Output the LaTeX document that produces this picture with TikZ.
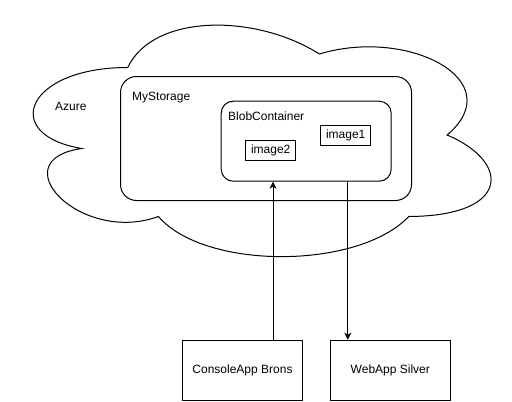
\documentclass[tikz,border=0pt]{standalone}
\usepackage{fontspec}
\setmainfont{Liberation Sans}
\usetikzlibrary{arrows.meta,calc}
\begin{document}
\begin{tikzpicture}[x=1pt,y=-1pt,
  lw/.style={line width=1pt},
  txt/.style={font=\fontsize{12}{14}\selectfont, inner sep=0pt},
  box/.style={draw, lw, txt},
  conn/.style={lw, -{Stealth[length=7pt,width=7pt,inset=2pt]}}]
\useasboundingbox (0,0) rectangle (512,402);
% cloud
\draw[lw] (127.75,67.5)
  .. controls (25.5,67.5) and (0,135) .. (81.8,148.5)
  .. controls (0,160) and (80,245) .. (158.4,216.5)
  .. controls (204.4,270) and (357.7,270) .. (408.8,216.5)
  .. controls (511,216) and (511,162) .. (447.1,135)
  .. controls (511,81) and (408.8,27) .. (319.4,54)
  .. controls (255.5,13.5) and (153.3,13.5) .. (127.75,67.5) -- cycle;
\node[txt, anchor=base west] (azure) at (55,110.7) {Azure};
% storage
\node[box, rounded corners=16pt, minimum width=291pt, minimum height=124pt, anchor=north west] (stor) at (120,76) {};
\node[txt, anchor=base west] (storlbl) at (132,100.3) {MyStorage};
\node[box, rounded corners=12pt, minimum width=170pt, minimum height=80pt, anchor=north west] (blob) at (220.7,100.7) {};
\node[txt, anchor=base west] (bloblbl) at (228,120.7) {BlobContainer};
\node[box, minimum width=50pt, minimum height=20pt] (img1) at (345.7,135.3) {image1};
\node[box, minimum width=50pt, minimum height=20pt] (img2) at (270.7,150.3) {image2};
% apps
\node[box, minimum width=120pt, minimum height=60pt] (cons) at (242.5,370.2) {ConsoleApp Brons};
\node[box, minimum width=120pt, minimum height=60pt] (web) at (390.3,370.2) {WebApp Silver};
% connectors
\coordinate (upfoot) at ($(cons.north west)+(91,0)$);
\coordinate (downhead) at ($(web.north west)+(18,0)$);
\draw[conn] (upfoot) -- (upfoot |- blob.south);
\draw[conn] (downhead |- blob.south) -- (downhead);
\end{tikzpicture}
\end{document}
